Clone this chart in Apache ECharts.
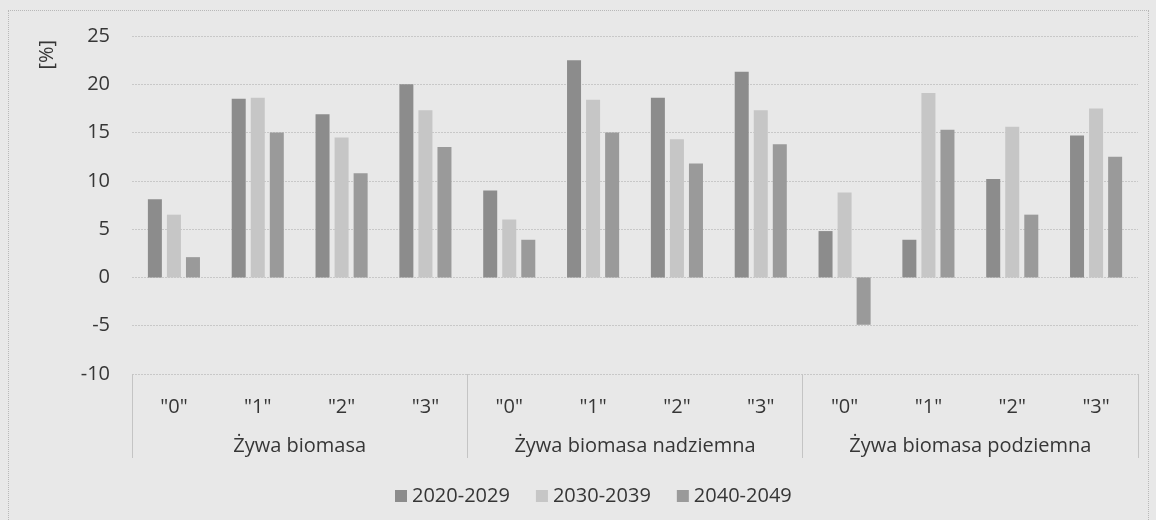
<!DOCTYPE html>
<html lang="pl">
<head>
    <meta charset="utf-8">
    <title>Żywa biomasa</title>
    <script src="https://cdn.jsdelivr.net/npm/echarts@6/dist/echarts.min.js"></script>
    <style>
        html, body { margin: 0; padding: 0; background: #e8e8e8; }
        #frame { position: absolute; left: 8px; top: 10px; width: 1141px; height: 520px; border: 1px dotted #b8b8b8; box-sizing: border-box; }
        #main { position: absolute; left: 0; top: 0; width: 1156px; height: 520px; }
    </style>
</head>
<body>
<div id="frame"></div>
<div id="main"></div>
<script>
    // dane
    var scenarios = ['"0"', '"1"', '"2"', '"3"'];
    var groups = ['Żywa biomasa', 'Żywa biomasa nadziemna', 'Żywa biomasa podziemna'];
    var seriesNames = ['2020-2029', '2030-2039', '2040-2049'];

    var s2020 = [8.1, 18.5, 16.9, 20.0,  9.0, 22.5, 18.6, 21.3,  4.8, 3.9, 10.2, 14.7];
    var s2030 = [6.5, 18.6, 14.5, 17.3,  6.0, 18.4, 14.3, 17.3,  8.8, 19.1, 15.6, 17.5];
    var s2040 = [2.1, 15.0, 10.8, 13.5,  3.9, 15.0, 11.8, 13.8, -4.9, 15.3, 6.5, 12.5];

    var colors = ['#8c8c8c', '#c6c6c6', '#9a9a9a'];

    var cats = [];
    groups.forEach(function () { scenarios.forEach(function (s) { cats.push(s); }); });

    var font = '"Open Sans", "Liberation Sans", sans-serif';
    var txt = '#363636';
    var fs = 20;
    var myChart = echarts.init(document.getElementById('main'));

    var option = {
        backgroundColor: 'transparent',
        textStyle: { fontFamily: font, color: txt },
        color: colors,
        graphic: [{
            type: 'text',
            left: 37,
            top: 40,
            rotation: Math.PI / 2,
            style: { text: '[%]', fontSize: fs, fill: txt, fontFamily: font }
        }],
        legend: {
            data: seriesNames,
            top: 481,
            left: 390,
            itemWidth: 12,
            itemHeight: 12,
            itemGap: 26,
            icon: 'rect',
            textStyle: { fontSize: fs, color: txt, fontFamily: font }
        },
        grid: { left: 132, right: 18, top: 36, bottom: 146 },
        xAxis: [
            {
                type: 'category',
                data: cats,
                position: 'bottom',
                axisLine: { show: false },
                axisTick: { show: false },
                axisLabel: { fontSize: fs, color: txt, margin: 23, fontFamily: font }
            },
            {
                type: 'category',
                data: groups,
                position: 'bottom',
                axisLine: { show: false },
                axisTick: { show: true, length: 84, lineStyle: { color: '#c4c4c4', width: 1 } },
                axisLabel: { fontSize: fs, color: txt, margin: 62, fontFamily: font }
            }
        ],
        yAxis: {
            type: 'value',
            min: -10,
            max: 25,
            interval: 5,
            axisLine: { show: false },
            axisTick: { show: false },
            axisLabel: { fontSize: fs, color: txt, margin: 22, fontFamily: font },
            splitLine: { lineStyle: { color: '#c8c8c8', type: [2, 1], width: 1 } }
        },
        series: [
            { name: seriesNames[0], type: 'bar', data: s2020, barWidth: 14, barGap: '36%' },
            { name: seriesNames[1], type: 'bar', data: s2030, barWidth: 14, barGap: '36%' },
            { name: seriesNames[2], type: 'bar', data: s2040, barWidth: 14, barGap: '36%' }
        ]
    };

    myChart.setOption(option);
</script>
</body>
</html>
